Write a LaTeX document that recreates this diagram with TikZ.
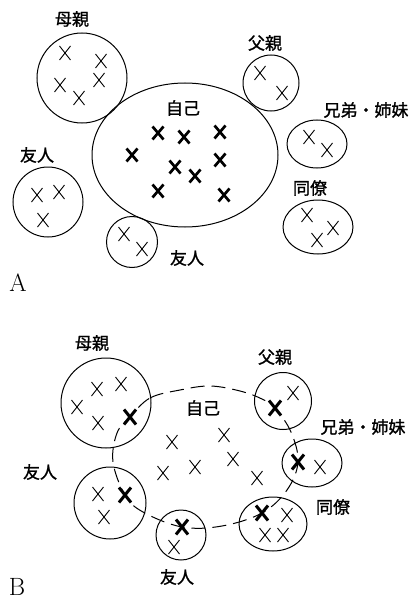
\documentclass[tikz,border=0pt]{standalone}
\usepackage{fontspec}
\newfontfamily\jp[FakeBold=1.2]{Noto Sans CJK JP}
\usetikzlibrary{shapes.geometric}
\begin{document}
\begin{tikzpicture}[x=1pt,y=-1pt,
  ring/.style={draw, circle, line width=1pt, inner sep=0pt, minimum size=#1},
  oval/.style 2 args={draw, ellipse, line width=1pt, inner sep=0pt, minimum width=#1, minimum height=#2},
  lab/.style={font=\jp\fontsize{17}{17}\selectfont, inner sep=0pt},
  panel/.style={font=\fontsize{25}{25}\selectfont, inner sep=0pt},
  thinx/.pic={\draw[line width=0.9pt] (-5.5,-7)--(5.5,7) (-5.5,7)--(5.5,-7);},
  boldx/.pic={\draw[line width=2.7pt] (-5.5,-6.5)--(5.5,6.5) (-5.5,6.5)--(5.5,-6.5);},
  bigx/.pic={\draw[line width=3pt] (-6,-7.5)--(6,7.5) (-6,7.5)--(6,-7.5);},
]
\useasboundingbox (0,0) rectangle (413,599);

% ---------------- Panel A ----------------
\node[oval={186}{144}] (selfA) at (185,155) {};
\node[ring=90] (motherA) at (82,78) {};
\node[ring=56] (fatherA) at (271,83) {};
\node[oval={60}{48}] (sibA) at (317,144) {};
\node[oval={70}{54}] (colA) at (318,227) {};
\node[ring=70] (friendLA) at (48,202) {};
\node[ring=51] (friendBA) at (132,242) {};

\node[lab] (lmotherA) at (72,19) {母親};
\node[lab] (lselfA) at (183,108) {自己};
\node[lab] (lfatherA) at (265,43) {父親};
\node[lab] (lsibA) at (366,110) {兄弟・姉妹};
\node[lab] (lcolA) at (310,188) {同僚};
\node[lab] (lfriendLA) at (37,155) {友人};
\node[lab] (lfriendBA) at (187,258) {友人};
\node[panel] (pA) at (18,283) {A};

\foreach \p in {(65,53),(101,61),(99,80),(60,85),(79,98),
                (260,73),(282,93),
                (309,137),(327,150),
                (307,215),(333,228),(317,240),
                (37,195),(59,192),(43,220),
                (124,234),(142,249)}
  \pic at \p {thinx};
\foreach \p in {(158,133),(184,137),(220,132),(132,155),(175,167),
                (195,176),(220,160),(158,191),(224,195)}
  \pic at \p {boldx};

% ---------------- Panel B ----------------
\draw[line width=1pt, dash pattern=on 14pt off 7pt]
  plot[smooth cycle, tension=0.6] coordinates {
    (130,417) (150,398) (180,390) (210,386) (240,391) (262,399) (275,408)
    (291,432) (298,462) (287,490) (262,513) (222,526) (182,527)
    (143,512) (125,495) (113,462) (117,433)};

\node[ring=90] (motherB) at (106,403) {};
\node[ring=72] (friendLB) at (110,503) {};
\node[ring=50] (friendBB) at (181,535) {};
\node[oval={68}{54}] (colB) at (273,524) {};
\node[ring=57] (fatherB) at (283,401) {};
\node[oval={60}{48}] (sibB) at (312,463) {};

\node[lab] (lmotherB) at (92,343) {母親};
\node[lab] (lselfB) at (203,408) {自己};
\node[lab] (lfatherB) at (275,357) {父親};
\node[lab] (lsibB) at (363,427) {兄弟・姉妹};
\node[lab] (lcolB) at (333,507) {同僚};
\node[lab] (lfriendLB) at (40,472) {友人};
\node[lab] (lfriendBB) at (177,577) {友人};
\node[panel] (pB) at (17,587) {B};

\foreach \p in {(97,389),(121,384),(77,407),(98,423),
                (98,494),(104,517),
                (174,547),
                (287,515),(265,535),(283,535),
                (293,393),
                (320,467),
                (172,442),(224,435),(233,459),(195,467),(163,473),(257,478)}
  \pic at \p {thinx};
\foreach \p in {(130,417),(125,495),(182,527),(262,513),(275,408),(298,462)}
  \pic at \p {bigx};
\end{tikzpicture}
\end{document}
